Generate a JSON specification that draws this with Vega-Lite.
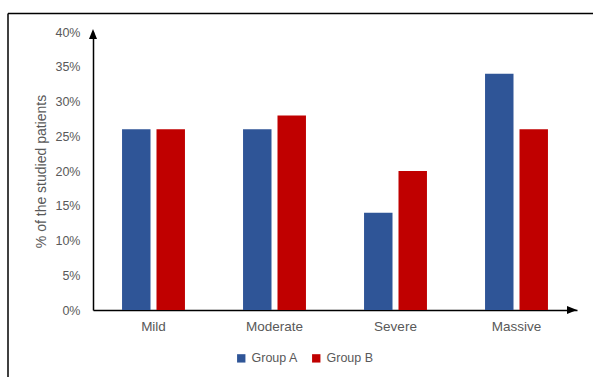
{
  "$schema": "https://vega.github.io/schema/vega-lite/v6.json",
  "width": 484,
  "height": 278,
  "autosize": {"type": "none"},
  "padding": {"left": 93, "top": 32, "right": 16, "bottom": 67},
  "background": "white",
  "config": {
    "view": {"stroke": null},
    "font": "Liberation Sans",
    "axis": {
      "grid": false,
      "ticks": false,
      "domainColor": "black",
      "domainWidth": 1.5,
      "labelColor": "#595959",
      "titleColor": "#595959",
      "titleFontWeight": "normal"
    },
    "axisX": {"labelAngle": 0, "labelFontSize": 13.5, "labelPadding": 9},
    "axisY": {
      "values": [0, 5, 10, 15, 20, 25, 30, 35, 40],
      "labelExpr": "datum.value + '%'",
      "labelOverlap": false,
      "labelFlush": false,
      "labelFontSize": 12.5,
      "labelPadding": 13,
      "titleFontSize": 14,
      "titlePadding": 6
    }
  },
  "data": {
    "values": [
      {"severity": "Mild", "group": "Group A", "pct": 26},
      {"severity": "Mild", "group": "Group B", "pct": 26},
      {"severity": "Moderate", "group": "Group A", "pct": 26},
      {"severity": "Moderate", "group": "Group B", "pct": 28},
      {"severity": "Severe", "group": "Group A", "pct": 14},
      {"severity": "Severe", "group": "Group B", "pct": 20},
      {"severity": "Massive", "group": "Group A", "pct": 34},
      {"severity": "Massive", "group": "Group B", "pct": 26}
    ]
  },
  "layer": [
    {
      "data": {"values": [{}]},
      "mark": {"type": "rule", "color": "black", "strokeWidth": 1.5},
      "encoding": {"x": {"value": -85}, "x2": {"value": 520}, "y": {"value": -18.5}}
    },
    {
      "data": {"values": [{}]},
      "mark": {"type": "rule", "color": "black", "strokeWidth": 1.5},
      "encoding": {"x": {"value": -85}, "y": {"value": -18.5}, "y2": {"value": 400}}
    },
    {
      "mark": {"type": "bar"},
      "encoding": {
        "x": {
          "field": "severity",
          "type": "nominal",
          "sort": ["Mild", "Moderate", "Severe", "Massive"],
          "scale": {"paddingInner": 0.48, "paddingOuter": 0.24},
          "axis": {"title": null}
        },
        "xOffset": {
          "field": "group",
          "type": "nominal",
          "scale": {"paddingInner": 0.174}
        },
        "y": {
          "field": "pct",
          "type": "quantitative",
          "scale": {"domain": [0, 40], "nice": false},
          "axis": {"title": "% of the studied patients"}
        },
        "color": {
          "field": "group",
          "type": "nominal",
          "scale": {"range": ["#2F5597", "#C00000"]},
          "legend": {
            "orient": "none",
            "legendX": 142,
            "legendY": 320,
            "direction": "horizontal",
            "title": null,
            "symbolType": "square",
            "symbolSize": 70,
            "symbolStrokeWidth": 0,
            "labelFontSize": 12.5,
            "labelColor": "#595959",
            "columnPadding": 11,
            "labelOffset": 4
          }
        }
      }
    },
    {
      "data": {"values": [{}]},
      "mark": {"type": "point", "shape": "M0,-1L0.8,1L-0.8,1Z", "filled": true, "color": "black", "opacity": 1, "size": 100, "yOffset": 2},
      "encoding": {"x": {"value": 0}, "y": {"datum": 40}}
    },
    {
      "data": {"values": [{}]},
      "mark": {"type": "point", "shape": "M1,0L-1,-0.8L-1,0.8Z", "filled": true, "color": "black", "opacity": 1, "size": 100, "xOffset": -5},
      "encoding": {"x": {"value": "width"}, "y": {"datum": 0}}
    }
  ]
}
